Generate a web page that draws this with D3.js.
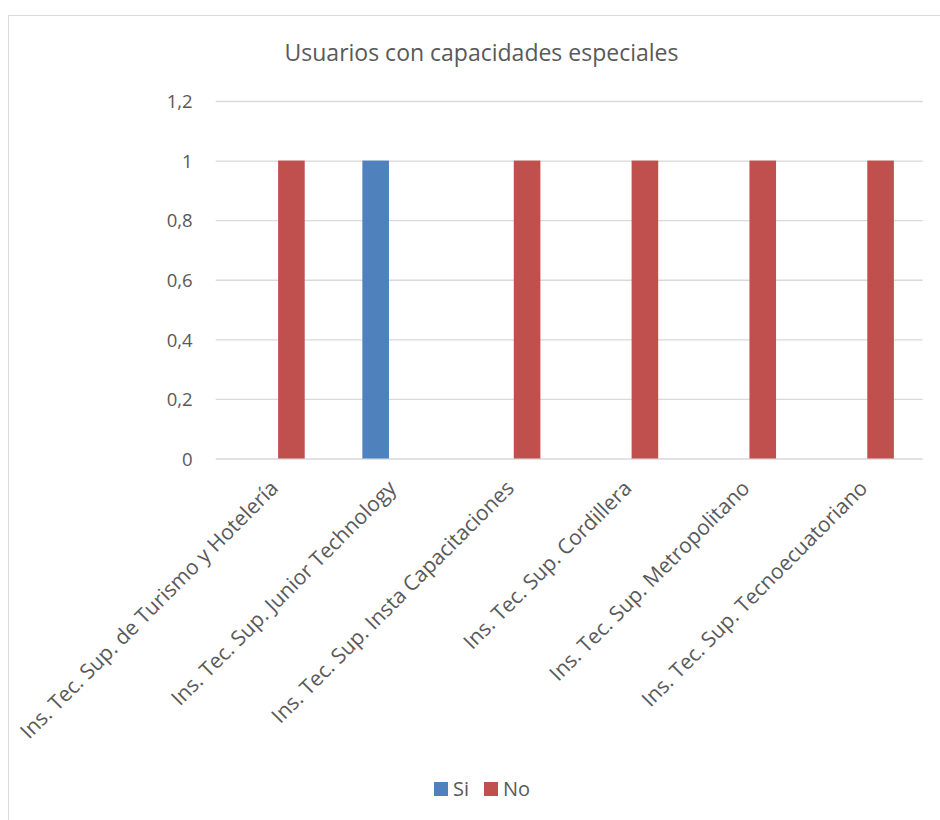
<!DOCTYPE html>
<html><head><meta charset="utf-8">
<script src="https://cdn.jsdelivr.net/npm/d3@7"></script>
<style>body{margin:0;background:#fff}svg{display:block}text{font-family:"Open Sans",sans-serif;fill:#595959}</style>
</head><body><svg id="c" width="940" height="820"></svg>
<script>
const title = "Usuarios con capacidades especiales";
const categories = ["Ins. Tec. Sup. de Turismo y Hotelería","Ins. Tec. Sup. Junior Technology","Ins. Tec. Sup. Insta Capacitaciones","Ins. Tec. Sup. Cordillera","Ins. Tec. Sup. Metropolitano","Ins. Tec. Sup. Tecnoecuatoriano"];
const seriesNames = ["Si","No"];
const siValues = [0,1,0,0,0,0];
const noValues = [1,0,1,1,1,1];
const yTicks = [0,0.2,0.4,0.6,0.8,1,1.2];
const colors = {Si:"#4F81BD", No:"#C0504D"};

(function(){
const svg = d3.select("#c");
svg.append("rect").attr("x",8.5).attr("y",15.5).attr("width",1000).attr("height",1000)
  .attr("fill","none").attr("stroke","#d9d9d9");

const pL=215.7, pR=922.7, pT=101, pB=458.5;
const x0 = d3.scaleBand().domain(categories).range([pL,pR]).padding(0);
const y = d3.scaleLinear().domain([0,1.2]).range([pB,pT]);
const x1 = d3.scaleBand().domain(seriesNames).range([-30.1,30.1]).paddingInner(0.208).paddingOuter(0);

svg.append("text").attr("x",481.5).attr("y",61).attr("text-anchor","middle")
  .style("font-size","23px").text(title);

const fmt = v => String(v).replace(".",",");
const yAxis = d3.axisLeft(y).tickValues(yTicks).tickSize(-(pR-pL)).tickFormat(fmt).tickPadding(23);
const ga = svg.append("g").attr("transform",`translate(${pL},0)`).call(yAxis);
ga.select(".domain").remove();
ga.selectAll(".tick line").attr("stroke","#d9d9d9").attr("stroke-width",1.3);
ga.selectAll(".tick text").style("font-size","18.5px").attr("fill","#595959").attr("dy","0.36em");

const data = categories.map((c,i)=>({c, Si:siValues[i], No:noValues[i]}));
const g = svg.append("g");
data.forEach(d=>{
  seriesNames.forEach(s=>{
    g.append("rect")
      .attr("x", x0(d.c)+x0.bandwidth()/2 + x1(s))
      .attr("width", x1.bandwidth())
      .attr("y", y(d[s]))
      .attr("height", y(0)-y(d[s]))
      .attr("fill", colors[s]);
  });
});

const xAxis = d3.axisBottom(x0).tickSize(0).tickPadding(0);
const gx = svg.append("g").attr("transform",`translate(0,${pB})`).call(xAxis);
gx.select(".domain").remove();
gx.selectAll(".tick text").style("font-size","21px").attr("fill","#595959")
  .attr("text-anchor","end").attr("dy",null).attr("y",0)
  .attr("transform","translate(5,31) rotate(-45)");

const legend = [{s:"Si",x:434},{s:"No",x:484}];
legend.forEach(l=>{
  svg.append("rect").attr("x",l.x).attr("y",782).attr("width",14).attr("height",14).attr("fill",colors[l.s]);
  svg.append("text").attr("x",l.x+19).attr("y",796).style("font-size","20px").text(l.s);
});
})();
</script></body></html>
